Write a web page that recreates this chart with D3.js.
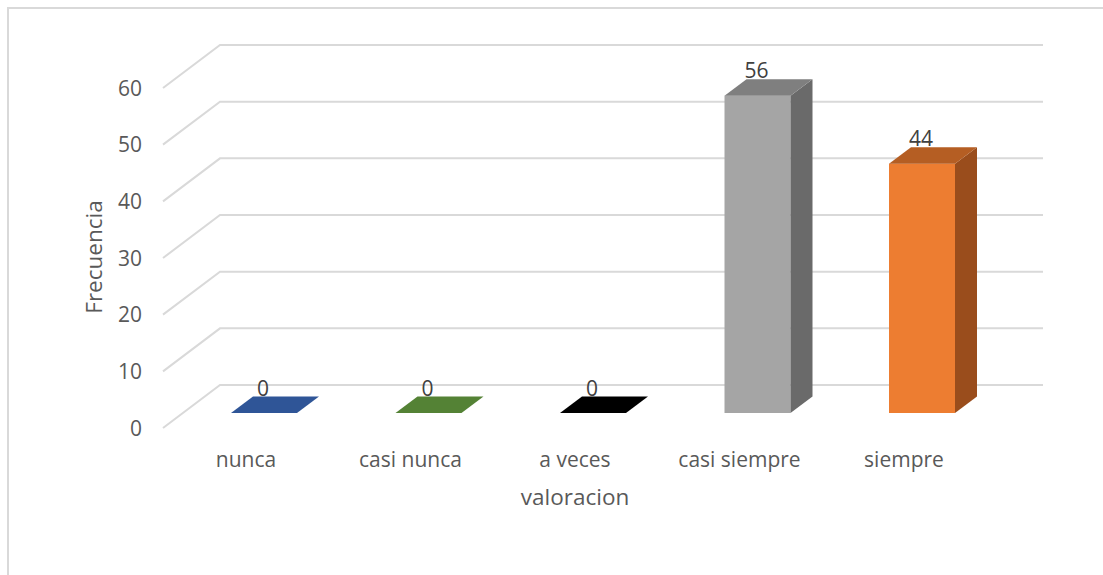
<!DOCTYPE html>
<html>
<head>
<meta charset="utf-8">
<script src="https://cdn.jsdelivr.net/npm/d3@7"></script>
<style>
  html, body { margin: 0; padding: 0; background: #fff; }
  svg { display: block; font-family: "Open Sans", "Noto Sans", sans-serif; }
</style>
</head>
<body>
<svg id="chart" width="1103" height="575"></svg>
<script>
// Respuestas por valoración
const categories = ["nunca", "casi nunca", "a veces", "casi siempre", "siempre"];
const frequencies = [0, 0, 0, 56, 44];
const yTicks = [0, 10, 20, 30, 40, 50, 60];

// Tonos de cada columna: frente, tapa, lateral
const palette = [
  { front: "#4472C4", top: "#2F5597", side: "#203864" },
  { front: "#70AD47", top: "#548235", side: "#385723" },
  { front: "#000000", top: "#000000", side: "#000000" },
  { front: "#A5A5A5", top: "#7F7F7F", side: "#6A6A6A" },
  { front: "#ED7D31", top: "#B55E23", side: "#9A4D1C" }
];

const svg = d3.select("#chart");
const W = 1103, H = 575;
const labelSize = 21, titleSize = 22.5;

// Marco del gráfico
svg.append("rect")
  .attr("x", 8).attr("y", 8)
  .attr("width", W + 20).attr("height", H + 20)
  .attr("fill", "none").attr("stroke", "#D9D9D9").attr("stroke-width", 2);

// Escalas: y da la altura en la cara frontal de las columnas
const y = d3.scaleLinear().domain([0, 60]).range([413, 73]);
const x = d3.scalePoint().domain(categories).range([264, 922]);
const barW = 66;
const depth = { dx: 22, dy: -16.5 };
const wall = { dy: -28, x0: 220, x1: 1043, sideDx: -57, sideDy: 43 };

// Cuadrícula: pared del fondo y pared lateral
const grid = svg.append("g").attr("stroke", "#D9D9D9").attr("stroke-width", 2).attr("fill", "none");
yTicks.forEach(t => {
  const yb = y(t) + wall.dy;
  grid.append("polyline")
    .attr("points", [
      [wall.x0 + wall.sideDx, yb + wall.sideDy],
      [wall.x0, yb],
      [wall.x1, yb]
    ].map(p => p.join(",")).join(" "));
});

// Etiquetas del eje de valores
svg.append("g")
  .selectAll("text").data(yTicks).join("text")
  .attr("x", 142)
  .attr("y", t => y(t) + wall.dy + wall.sideDy)
  .attr("dy", "0.36em")
  .attr("text-anchor", "end")
  .attr("font-size", labelSize)
  .attr("fill", "#595959")
  .text(t => t);

// Columnas 3D
const bars = svg.append("g");
categories.forEach((c, i) => {
  const v = frequencies[i];
  const cx = x(c);
  const x0 = cx - barW / 2, x1 = cx + barW / 2;
  const yb = y(0), yt = y(v);
  const col = palette[i];
  const g = bars.append("g");
  if (v > 0) {
    // cara frontal
    g.append("rect")
      .attr("x", x0).attr("y", yt)
      .attr("width", barW).attr("height", yb - yt)
      .attr("fill", col.front);
    // cara lateral
    g.append("polygon")
      .attr("points", [
        [x1, yt], [x1 + depth.dx, yt + depth.dy],
        [x1 + depth.dx, yb + depth.dy], [x1, yb]
      ].map(p => p.join(",")).join(" "))
      .attr("fill", col.side);
  }
  // tapa superior
  g.append("polygon")
    .attr("points", [
      [x0, yt], [x0 + depth.dx, yt + depth.dy],
      [x1 + depth.dx, yt + depth.dy], [x1, yt]
    ].map(p => p.join(",")).join(" "))
    .attr("fill", col.top);
  // valor
  g.append("text")
    .attr("x", cx - 1)
    .attr("y", yt + depth.dy - 1)
    .attr("text-anchor", "middle")
    .attr("font-size", labelSize)
    .attr("fill", "#404040")
    .text(v);
});

// Etiquetas de categoría
svg.append("g")
  .selectAll("text").data(categories).join("text")
  .attr("x", d => x(d) - 18)
  .attr("y", 467)
  .attr("text-anchor", "middle")
  .attr("font-size", labelSize)
  .attr("fill", "#595959")
  .text(d => d);

// Títulos de los ejes
svg.append("text")
  .attr("x", 575).attr("y", 505)
  .attr("text-anchor", "middle")
  .attr("font-size", titleSize)
  .attr("fill", "#595959")
  .text("valoracion");

svg.append("text")
  .attr("transform", "translate(102,257) rotate(-90)")
  .attr("text-anchor", "middle")
  .attr("font-size", titleSize)
  .attr("fill", "#595959")
  .text("Frecuencia");
</script>
</body>
</html>
